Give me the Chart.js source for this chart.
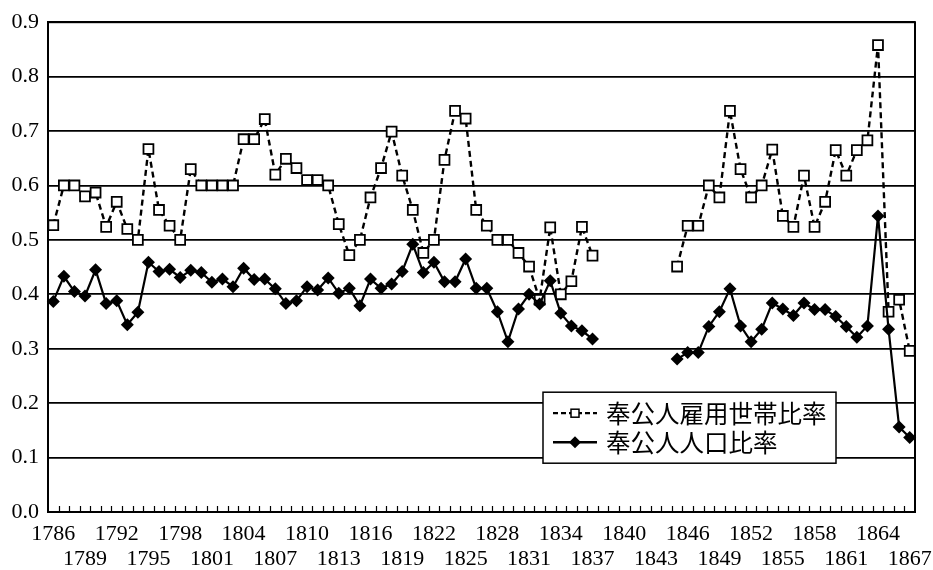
<!DOCTYPE html>
<html>
<head>
<meta charset="utf-8">
<script src="https://cdn.jsdelivr.net/npm/chart.js@4.4.1/dist/chart.umd.min.js"></script>
<style>
    body { margin: 0; background: #fff; }
    #wrap { width: 933px; height: 570px; }
</style>
</head>
<body>
<div id="wrap"><canvas id="servantChart"></canvas></div>
<script>
// years 1786 .. 1867
const years = Array.from({ length: 82 }, (_, i) => 1786 + i);

// 奉公人雇用世帯比率 (dashed, hollow squares)
const hireRatio = [
    0.527, 0.600, 0.600, 0.580, 0.587, 0.524, 0.570, 0.520, 0.500, 0.667,
    0.555, 0.526, 0.500, 0.630, 0.600, 0.600, 0.600, 0.600, 0.685, 0.685,
    0.722, 0.620, 0.649, 0.632, 0.610, 0.610, 0.600, 0.529, 0.472, 0.500,
    0.578, 0.632, 0.699, 0.618, 0.555, 0.476, 0.500, 0.647, 0.737, 0.723,
    0.555, 0.526, 0.500, 0.500, 0.476, 0.451, 0.390, 0.523, 0.400, 0.424,
    0.524, 0.471,
    null, null, null, null, null, null, null,
    0.451, 0.526, 0.526, 0.600, 0.578, 0.737, 0.630, 0.578, 0.600, 0.666,
    0.544, 0.524, 0.618, 0.524, 0.570, 0.665, 0.618, 0.665, 0.683, 0.858,
    0.368, 0.390, 0.296
];

// 奉公人人口比率 (solid, black diamonds)
const popRatio = [
    0.387, 0.433, 0.405, 0.397, 0.445, 0.383, 0.388, 0.344, 0.367, 0.459,
    0.442, 0.446, 0.431, 0.444, 0.440, 0.422, 0.428, 0.414, 0.448, 0.427,
    0.428, 0.410, 0.383, 0.388, 0.414, 0.408, 0.430, 0.402, 0.411, 0.379,
    0.428, 0.411, 0.419, 0.442, 0.492, 0.440, 0.459, 0.423, 0.423, 0.465,
    0.411, 0.411, 0.368, 0.313, 0.373, 0.400, 0.382, 0.425, 0.365, 0.342,
    0.333, 0.318,
    null, null, null, null, null, null, null,
    0.281, 0.293, 0.293, 0.341, 0.368, 0.410, 0.342, 0.313, 0.336, 0.384,
    0.373, 0.361, 0.384, 0.372, 0.372, 0.359, 0.341, 0.321, 0.342, 0.544,
    0.336, 0.156, 0.137
];

const seriesNames = ['奉公人雇用世帯比率', '奉公人人口比率'];
const yTicks = [0, 0.1, 0.2, 0.3, 0.4, 0.5, 0.6, 0.7, 0.8, 0.9];

const serif = "'Liberation Serif', 'DejaVu Serif', serif";
const cjk = "'Noto Sans CJK JP', 'Noto Sans CJK SC', sans-serif";

// frame, inward tick marks and the boxed legend
const framePlugin = {
    id: 'frame',
    afterDraw(chart) {
        const ctx = chart.ctx;
        const area = chart.chartArea;
        const x = chart.scales.x;
        const step = (area.right - area.left) / years.length;

        ctx.save();
        ctx.strokeStyle = '#000';
        ctx.lineWidth = 2;
        ctx.strokeRect(area.left, area.top, area.right - area.left, area.bottom - area.top);

        ctx.lineWidth = 1.2;
        ctx.beginPath();
        for (let i = 1; i < years.length; i++) {
            const px = Math.round(x.getPixelForValue(i) - step / 2) + 0.5;
            ctx.moveTo(px, area.bottom);
            ctx.lineTo(px, area.bottom - 6);
        }
        ctx.stroke();

        // legend box
        const bx = area.left + 495, by = area.top + 370, bw = 293, bh = 71;
        ctx.fillStyle = '#fff';
        ctx.fillRect(bx, by, bw, bh);
        ctx.lineWidth = 1.5;
        ctx.strokeRect(bx, by, bw, bh);

        const sx0 = bx + 10, sx1 = bx + 54, sc = bx + 32;
        const y1 = by + 21, y2 = by + 50;

        ctx.lineWidth = 2.2;
        ctx.setLineDash([5, 3]);
        ctx.beginPath();
        ctx.moveTo(sx0, y1);
        ctx.lineTo(sx1, y1);
        ctx.stroke();
        ctx.setLineDash([]);
        ctx.fillStyle = '#fff';
        ctx.fillRect(sc - 4, y1 - 4, 8, 8);
        ctx.lineWidth = 1.5;
        ctx.strokeRect(sc - 4, y1 - 4, 8, 8);

        ctx.lineWidth = 2.5;
        ctx.beginPath();
        ctx.moveTo(sx0, y2);
        ctx.lineTo(sx1, y2);
        ctx.stroke();
        ctx.fillStyle = '#000';
        ctx.beginPath();
        ctx.moveTo(sc - 6, y2);
        ctx.lineTo(sc, y2 - 6);
        ctx.lineTo(sc + 6, y2);
        ctx.lineTo(sc, y2 + 6);
        ctx.closePath();
        ctx.fill();

        ctx.font = '24.5px ' + cjk;
        ctx.textBaseline = 'middle';
        ctx.textAlign = 'left';
        ctx.fillText(seriesNames[0], bx + 63, y1);
        ctx.fillText(seriesNames[1], bx + 63, y2);
        ctx.restore();
    }
};

const ctx = document.getElementById('servantChart').getContext('2d');

const config = {
    type: 'line',
    data: {
        labels: years,
        datasets: [{
            label: seriesNames[0],
            data: hireRatio,
            borderColor: '#000',
            borderWidth: 2.4,
            borderDash: [6, 4],
            pointStyle: 'rect',
            pointRadius: 7,
            pointBorderWidth: 1.8,
            pointBackgroundColor: '#fff',
            pointBorderColor: '#000',
            spanGaps: false,
            tension: 0,
            order: 1
        }, {
            label: seriesNames[1],
            data: popRatio,
            borderColor: '#000',
            borderWidth: 2.2,
            pointStyle: 'rectRot',
            pointRadius: 6.5,
            pointBorderWidth: 0,
            pointBackgroundColor: '#000',
            pointBorderColor: '#000',
            spanGaps: false,
            tension: 0,
            order: 0
        }]
    },
    options: {
        responsive: true,
        maintainAspectRatio: false,
        animation: false,
        devicePixelRatio: 1,
        layout: {
            padding: { left: 0, right: 18, top: 22, bottom: 0 }
        },
        scales: {
            x: {
                type: 'category',
                offset: true,
                grid: { display: false },
                border: { display: true, color: '#000', width: 2 },
                ticks: {
                    autoSkip: false,
                    maxRotation: 0,
                    minRotation: 0,
                    padding: 1,
                    color: '#000',
                    font: { family: serif, size: 22, lineHeight: 1.17 },
                    callback: function(value, index) {
                        const d = years[index] - 1786;
                        if (d % 6 === 0) return [String(years[index]), ''];
                        if (d % 6 === 3) return ['', String(years[index])];
                        return null;
                    }
                },
                afterFit: function(scale) { scale.height = 58; }
            },
            y: {
                min: 0,
                max: 0.9,
                afterBuildTicks: function(scale) {
                    scale.ticks = yTicks.map(v => ({ value: v }));
                },
                grid: { color: '#000', lineWidth: 1.8, drawTicks: false },
                border: { display: true, color: '#000', width: 2 },
                ticks: {
                    padding: 9,
                    color: '#000',
                    font: { family: serif, size: 22 },
                    callback: v => v.toFixed(1)
                },
                afterFit: function(scale) { scale.width = 48; }
            }
        },
        plugins: {
            legend: { display: false },
            tooltip: { enabled: false },
            title: { display: false }
        }
    },
    plugins: [framePlugin]
};

new Chart(ctx, config);
</script>
</body>
</html>
